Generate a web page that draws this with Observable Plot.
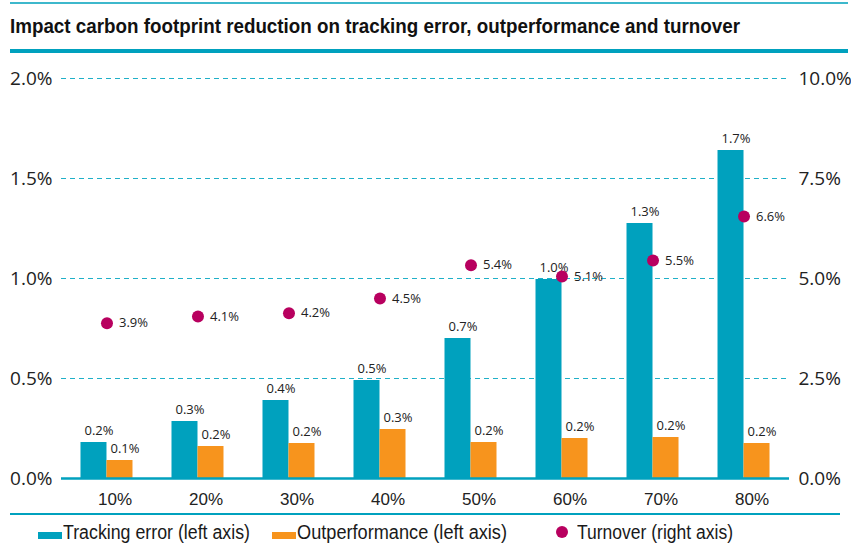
<!DOCTYPE html>
<html><head><meta charset="utf-8">
<script src="https://cdn.jsdelivr.net/npm/d3@7"></script>
<script src="https://cdn.jsdelivr.net/npm/@observablehq/plot@0.6"></script>
<style>
body{margin:0;background:#fff;width:851px;height:545px;overflow:hidden;position:relative;font-family:"Open Sans",sans-serif;color:#1a1a1a;}
#topline{position:absolute;left:10px;top:2px;width:838px;height:2px;background:#3db8cc;}
#title{position:absolute;left:10px;top:15px;font:bold 21px/21px "Liberation Sans",sans-serif;color:#111;white-space:nowrap;transform-origin:0 0;}
#thick{position:absolute;left:10px;top:49px;width:838px;height:4px;background:#00a1be;}
#chart{position:absolute;left:0;top:55px;}
#bottomline{position:absolute;left:10px;top:513px;width:830px;height:2px;background:#00a1be;}
.lg{position:absolute;top:522px;font:20px/20px "Liberation Sans",sans-serif;color:#1a1a1a;white-space:nowrap;transform-origin:0 0;}
.sw{position:absolute;top:532px;width:24px;height:7px;}
.dot{position:absolute;left:556px;top:526px;width:12px;height:12px;border-radius:50%;background:#b8005f;}
</style></head>
<body>
<div id="topline"></div>
<div id="title" data-w="730">Impact carbon footprint reduction on tracking error, outperformance and turnover</div>
<div id="thick"></div>
<div id="chart"></div>
<div id="bottomline"></div>
<div class="sw" style="left:38px;background:#00a1be"></div><div class="lg" data-w="187" style="left:63px">Tracking error (left axis)</div>
<div class="sw" style="left:272px;background:#f7941d"></div><div class="lg" data-w="210" style="left:297px">Outperformance (left axis)</div>
<div class="dot"></div><div class="lg" data-w="156" style="left:577px">Turnover (right axis)</div>
<script>
const categories = ["10%","20%","30%","40%","50%","60%","70%","80%"];
const trackingError = [0.18,0.285,0.39,0.49,0.70,0.995,1.275,1.64];
const trackingErrorLabels = ["0.2%","0.3%","0.4%","0.5%","0.7%","1.0%","1.3%","1.7%"];
const outperformance = [0.09,0.16,0.175,0.245,0.18,0.20,0.205,0.175];
const outperformanceLabels = ["0.1%","0.2%","0.2%","0.3%","0.2%","0.2%","0.2%","0.2%"];
const turnover = [3.88,4.05,4.13,4.5,5.33,5.05,5.45,6.55];
const turnoverLabels = ["3.9%","4.1%","4.2%","4.5%","5.4%","5.1%","5.5%","6.6%"];
const leftTicks = [0,0.5,1,1.5,2];
const rightTicks = [0,2.5,5,7.5,10];
const ratio = 5; // right axis / left axis

const TEAL = "#00a1be", ORANGE = "#f7941d", MAGENTA = "#b8005f", GRID = "#1fb0c8";

const rows = categories.map((c,i)=>({c, te:trackingError[i], teL:trackingErrorLabels[i], op:outperformance[i], opL:outperformanceLabels[i], to:turnover[i]/ratio, toL:turnoverLabels[i]}));

const chart = Plot.plot({
  width: 851, height: 458,
  marginLeft: 61, marginRight: 62, marginTop: 23, marginBottom: 35,
  style: {fontFamily: "'Open Sans', sans-serif", color: "#222", background: "transparent"},
  x: {domain: categories, paddingInner: 0.7143, paddingOuter: 0.357, round: false, axis: null},
  y: {domain: [0, 2], axis: null},
  marks: [
    Plot.ruleY(leftTicks.filter(d=>d>0), {stroke: GRID, strokeDasharray: "5,4", strokeWidth: 1}),
    Plot.barY(rows, {x: "c", y: "te", fill: TEAL, dx: -13}),
    Plot.barY(rows, {x: "c", y: "op", fill: ORANGE, dx: 13}),
    Plot.ruleY([0], {stroke: TEAL, strokeWidth: 2.5}),
    Plot.text(rows, {x: "c", y: "te", text: "teL", dx: -8, dy: -12, fontSize: 13, fill: "#222"}),
    Plot.text(rows, {x: "c", y: "op", text: "opL", dx: 18, dy: -12, fontSize: 13, fill: "#222"}),
    Plot.dot(rows, {x: "c", y: "to", r: 6, fill: MAGENTA, stroke: null}),
    Plot.text(rows, {x: "c", y: "to", text: "toL", dx: 12, textAnchor: "start", fontSize: 13, fill: "#222"}),
    Plot.axisX(categories, {anchor: "bottom", tickSize: 0, tickPadding: 14, dx: 8, fontSize: 17, fontFamily: "'Liberation Sans', sans-serif", fill: "#222", label: null}),
    Plot.axisY(leftTicks, {anchor: "left", tickSize: 0, tickPadding: 9, fontSize: 19, fill: "#222", tickFormat: d => d.toFixed(1) + "%", label: null}),
    Plot.axisY(rightTicks.map(d => d / ratio), {anchor: "right", tickSize: 0, tickPadding: 9, fontSize: 19, fill: "#222", tickFormat: d => (d * ratio).toFixed(1) + "%", label: null})
  ]
});
document.getElementById("chart").appendChild(chart);

// condense HTML texts to the reference widths
document.querySelectorAll("[data-w]").forEach(el => {
  const w = el.getBoundingClientRect().width;
  el.style.transform = `scaleX(${(+el.dataset.w / w).toFixed(4)})`;
});
</script>
</body></html>
